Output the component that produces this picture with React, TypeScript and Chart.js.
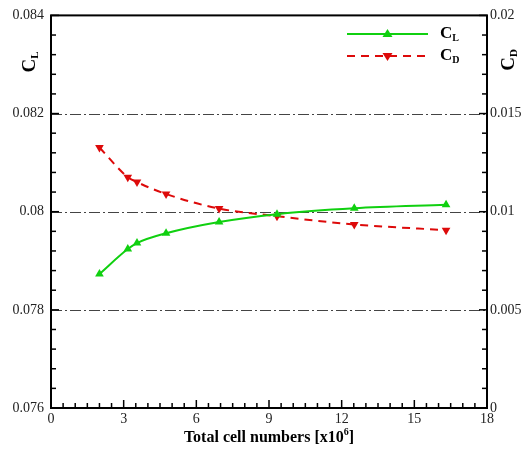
import React, { useEffect, useRef } from "react";
import { Chart, registerables } from "chart.js";

Chart.register(...registerables);

const cellNumbers = [2.0, 3.17, 3.55, 4.75, 6.94, 9.33, 12.52, 16.31];
const clValues = [0.07873, 0.07924, 0.07936, 0.07956, 0.07979, 0.07995, 0.08007, 0.08014];
const cdValues = [0.01327, 0.01176, 0.01151, 0.0109, 0.01016, 0.00977, 0.00935, 0.00906];

const xTicks = [0, 3, 6, 9, 12, 15, 18];
const clTicks = [0.076, 0.078, 0.08, 0.082, 0.084];
const cdTicks = [0, 0.005, 0.01, 0.015, 0.02];
const clGridLines = [0.078, 0.08, 0.082];

const GREEN = "#10d010";
const RED = "#dd0a0a";
const FONT = '"Liberation Serif", "Times New Roman", serif';

function fmt(v: number) {
  return String(parseFloat(v.toFixed(5)));
}

function drawSub(ctx: CanvasRenderingContext2D, x: number, y: number, main: string, sub: string, size: number, align: "left" | "center") {
  ctx.save();
  ctx.textBaseline = "middle";
  ctx.fillStyle = "#000";
  ctx.font = `bold ${size}px ${FONT}`;
  const w1 = ctx.measureText(main).width;
  ctx.font = `bold ${Math.round(size * 0.6)}px ${FONT}`;
  const w2 = ctx.measureText(sub).width;
  let sx = align === "center" ? x - (w1 + w2) / 2 : x;
  ctx.textAlign = "left";
  ctx.font = `bold ${size}px ${FONT}`;
  ctx.fillText(main, sx, y);
  ctx.font = `bold ${Math.round(size * 0.6)}px ${FONT}`;
  ctx.fillText(sub, sx + w1, y + size * 0.28);
  ctx.restore();
}

const framePlugin = {
  id: "frame",
  beforeDatasetsDraw(chart: any) {
    const { ctx, chartArea } = chart;
    const y = chart.scales.y;
    ctx.save();
    ctx.strokeStyle = "#444";
    ctx.lineWidth = 1;
    ctx.setLineDash([11, 3, 2, 3]);
    clGridLines.forEach((v) => {
      const py = Math.round(y.getPixelForValue(v)) + 0.5;
      ctx.beginPath();
      ctx.moveTo(chartArea.left, py);
      ctx.lineTo(chartArea.right, py);
      ctx.stroke();
    });
    ctx.restore();
  },
  afterDraw(chart: any) {
    const { ctx, chartArea } = chart;
    const { left, right, top, bottom } = chartArea;
    const xs = chart.scales.x;
    const y = chart.scales.y;
    const y1 = chart.scales.y1;
    ctx.save();
    ctx.strokeStyle = "#000";
    ctx.lineWidth = 2;
    ctx.strokeRect(left, top, right - left, bottom - top);
    ctx.lineWidth = 1.5;
    const MAJ = 8, MIN = 5;
    // x ticks
    for (let i = 0; i <= 36; i++) {
      const v = i * 0.5;
      const px = xs.getPixelForValue(v);
      const len = i % 6 === 0 ? MAJ : MIN;
      ctx.beginPath();
      ctx.moveTo(px, bottom);
      ctx.lineTo(px, bottom - len);
      ctx.stroke();
    }
    // left ticks
    for (let i = 0; i <= 20; i++) {
      const v = 0.076 + i * 0.0004;
      const py = y.getPixelForValue(v);
      const len = i % 5 === 0 ? MAJ : MIN;
      ctx.beginPath();
      ctx.moveTo(left, py);
      ctx.lineTo(left + len, py);
      ctx.stroke();
    }
    // right ticks
    for (let i = 0; i <= 20; i++) {
      const v = i * 0.001;
      const py = y1.getPixelForValue(v);
      const len = i % 5 === 0 ? MAJ : MIN;
      ctx.beginPath();
      ctx.moveTo(right, py);
      ctx.lineTo(right - len, py);
      ctx.stroke();
    }
    ctx.restore();

    // axis titles
    ctx.save();
    ctx.translate(30, 62);
    ctx.rotate(-Math.PI / 2);
    drawSub(ctx, 0, 0, "C", "L", 19, "center");
    ctx.restore();
    ctx.save();
    ctx.translate(509, 60);
    ctx.rotate(-Math.PI / 2);
    drawSub(ctx, 0, 0, "C", "D", 19, "center");
    ctx.restore();

    // x title
    ctx.save();
    ctx.fillStyle = "#000";
    ctx.textBaseline = "middle";
    const main = "Total cell numbers [x10";
    ctx.font = `bold 16px ${FONT}`;
    const w1 = ctx.measureText(main).width;
    ctx.font = `bold 10px ${FONT}`;
    const w2 = ctx.measureText("6").width;
    ctx.font = `bold 16px ${FONT}`;
    const w3 = ctx.measureText("]").width;
    const total = w1 + w2 + w3;
    const cx = (left + right) / 2 - total / 2;
    const ty = 438;
    ctx.textAlign = "left";
    ctx.fillText(main, cx, ty);
    ctx.font = `bold 10px ${FONT}`;
    ctx.fillText("6", cx + w1, ty - 6);
    ctx.font = `bold 16px ${FONT}`;
    ctx.fillText("]", cx + w1 + w2, ty);
    ctx.restore();

    // legend
    const lx0 = 347, lx1 = 428, mx = (lx0 + lx1) / 2;
    const ly = [34, 56];
    ctx.save();
    ctx.lineWidth = 2;
    ctx.strokeStyle = GREEN;
    ctx.beginPath();
    ctx.moveTo(lx0, ly[0]);
    ctx.lineTo(lx1, ly[0]);
    ctx.stroke();
    ctx.fillStyle = GREEN;
    ctx.beginPath();
    ctx.moveTo(mx, ly[0] - 5);
    ctx.lineTo(mx + 5, ly[0] + 3);
    ctx.lineTo(mx - 5, ly[0] + 3);
    ctx.closePath();
    ctx.fill();
    ctx.strokeStyle = RED;
    ctx.setLineDash([8, 6]);
    ctx.beginPath();
    ctx.moveTo(lx0, ly[1]);
    ctx.lineTo(lx1, ly[1]);
    ctx.stroke();
    ctx.setLineDash([]);
    ctx.fillStyle = RED;
    ctx.beginPath();
    ctx.moveTo(mx, ly[1] + 5);
    ctx.lineTo(mx + 5, ly[1] - 3);
    ctx.lineTo(mx - 5, ly[1] - 3);
    ctx.closePath();
    ctx.fill();
    ctx.restore();
    drawSub(ctx, 440, ly[0], "C", "L", 17, "left");
    drawSub(ctx, 440, ly[1], "C", "D", 17, "left");
  },
};

export default function App() {
  const ref = useRef<HTMLCanvasElement>(null);
  useEffect(() => {
    if (!ref.current) return;
    const tickFont = { family: FONT, size: 14 };
    const chart = new Chart(ref.current, {
      type: "line",
      data: {
        datasets: [
          {
            label: "CL",
            data: cellNumbers.map((x, i) => ({ x, y: clValues[i] })),
            yAxisID: "y",
            borderColor: GREEN,
            backgroundColor: GREEN,
            borderWidth: 2,
            pointStyle: "triangle",
            pointRadius: 5,
            pointBorderWidth: 0,
            cubicInterpolationMode: "monotone",
          },
          {
            label: "CD",
            data: cellNumbers.map((x, i) => ({ x, y: cdValues[i] })),
            yAxisID: "y1",
            borderColor: RED,
            backgroundColor: RED,
            borderWidth: 2,
            borderDash: [8, 6],
            pointStyle: "triangle",
            pointRotation: 180,
            pointRadius: 5,
            pointBorderWidth: 0,
            cubicInterpolationMode: "monotone",
          },
        ],
      },
      options: {
        responsive: false,
        devicePixelRatio: 1,
        animation: false,
        layout: { padding: { top: 13, left: 0, right: 0, bottom: 0 } },
        plugins: { legend: { display: false }, tooltip: { enabled: false } },
        scales: {
          x: {
            type: "linear",
            min: 0,
            max: 18,
            grid: { display: false, drawTicks: false },
            border: { display: false },
            ticks: { font: tickFont, color: "#222", padding: 3, maxRotation: 0, callback: (v: any) => fmt(v) },
            afterBuildTicks: (s: any) => { s.ticks = xTicks.map((value) => ({ value })); },
            afterFit: (s: any) => { s.height = 46; },
          },
          y: {
            type: "linear",
            position: "left",
            min: 0.076,
            max: 0.084,
            grid: { display: false, drawTicks: false },
            border: { display: false },
            ticks: { font: tickFont, color: "#222", padding: 7, callback: (v: any) => fmt(v) },
            afterBuildTicks: (s: any) => { s.ticks = clTicks.map((value) => ({ value })); },
            afterFit: (s: any) => { s.width = 51; },
          },
          y1: {
            type: "linear",
            position: "right",
            min: 0,
            max: 0.02,
            grid: { display: false, drawTicks: false },
            border: { display: false },
            ticks: { font: tickFont, color: "#222", padding: 3, callback: (v: any) => fmt(v) },
            afterBuildTicks: (s: any) => { s.ticks = cdTicks.map((value) => ({ value })); },
            afterFit: (s: any) => { s.width = 36; },
          },
        },
      },
      plugins: [framePlugin],
    } as any);
    return () => chart.destroy();
  }, []);
  return (
    <div style={{ position: "absolute", left: 0, top: 0, width: 523, height: 454, background: "#fff" }}>
      <canvas ref={ref} width={523} height={454} />
    </div>
  );
}
